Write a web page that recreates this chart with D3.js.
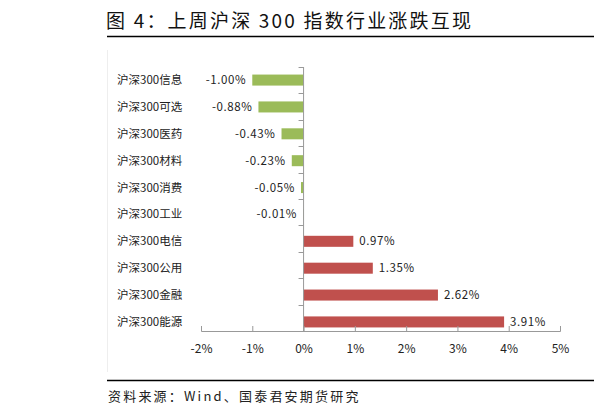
<!DOCTYPE html>
<html><head><meta charset="utf-8">
<script src="https://cdn.jsdelivr.net/npm/d3@7"></script>
<style>body{margin:0;background:#fff}svg{font-family:"Noto Sans CJK SC",sans-serif}</style>
</head><body><svg id="c" width="594" height="417"></svg>
<script>
var categories = ["沪深300信息","沪深300可选","沪深300医药","沪深300材料","沪深300消费","沪深300工业","沪深300电信","沪深300公用","沪深300金融","沪深300能源"];
var values = [-1.00,-0.88,-0.43,-0.23,-0.05,-0.01,0.97,1.35,2.62,3.91];
var ticks = [-2,-1,0,1,2,3,4,5];

var svg = d3.select('#c');
var x = d3.scaleLinear().domain([-2,5]).range([201,560]);
var y = d3.scaleBand().domain(categories).range([66.5,335.5]).paddingInner(0.59).paddingOuter(0.3);
var axisY = 331;

svg.append('text').attr('x',106).attr('y',28).attr('font-size',19).attr('fill','#111')
  .attr('letter-spacing',2.2).text('图 4：上周沪深 300 指数行业涨跌互现');
svg.append('line').attr('x1',107).attr('x2',594).attr('y1',36.5).attr('y2',36.5).attr('stroke','#000').attr('stroke-width',1.5);
svg.append('line').attr('x1',107.5).attr('x2',107.5).attr('y1',50).attr('y2',372).attr('stroke','#eee');

svg.selectAll('rect.bar').data(values).enter().append('rect')
  .attr('x', d => x(Math.min(0,d)))
  .attr('width', d => Math.abs(x(d)-x(0)))
  .attr('y', (d,i) => y(categories[i]))
  .attr('height', y.bandwidth())
  .attr('fill', d => d < 0 ? '#9bbb59' : '#c0504d');

svg.selectAll('text.val').data(values).enter().append('text')
  .attr('x', d => d < 0 ? x(d)-6 : x(d)+6)
  .attr('y', (d,i) => y(categories[i])+y.bandwidth()/2+4)
  .attr('text-anchor', d => d < 0 ? 'end' : 'start')
  .attr('font-size',11.5).attr('fill','#222').attr('letter-spacing',0.6)
  .text(d => d.toFixed(2)+'%');

svg.selectAll('text.cat').data(categories).enter().append('text')
  .attr('x',117).attr('y', d => y(d)+y.bandwidth()/2+4)
  .attr('font-size',11.5).attr('fill','#222').text(d => d);

// y axis with ticks between categories
svg.append('line').attr('x1',x(0)).attr('x2',x(0)).attr('y1',67).attr('y2',axisY).attr('stroke','#999');
for (var i=0;i<=categories.length;i++){
  var yy = Math.round(67 + i*(axisY-67)/categories.length)+0.5;
  svg.append('line').attr('x1',x(0)-5).attr('x2',x(0)).attr('y1',yy).attr('y2',yy).attr('stroke','#999');
}

var xa = svg.append('g').attr('transform','translate(0,'+axisY+')')
  .call(d3.axisBottom(x).tickValues(ticks).tickSize(-5).tickFormat(d => d+'%'));
xa.select('.domain').attr('stroke','#999');
xa.selectAll('.tick line').attr('stroke','#999');
xa.selectAll('text').attr('font-size',12).attr('fill','#222').attr('dy','1.6em')
  .attr('font-family','"Noto Sans CJK SC",sans-serif');

svg.append('line').attr('x1',107).attr('x2',594).attr('y1',380.5).attr('y2',380.5).attr('stroke','#000').attr('stroke-width',1.5);
svg.append('text').attr('x',108).attr('y',401).attr('font-size',13).attr('fill','#222')
  .attr('letter-spacing',2.2).text('资料来源：Wind、国泰君安期货研究');
</script></body></html>
